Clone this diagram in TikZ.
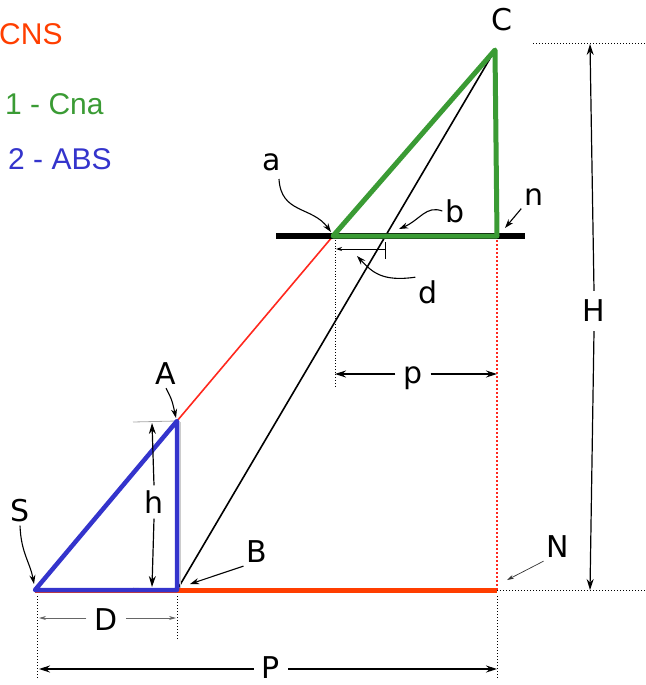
\documentclass[tikz,border=0pt]{standalone}
\usepackage{fontspec}
\setmainfont{Liberation Sans}
\newfontfamily\labfont{DejaVu Sans}
\usetikzlibrary{arrows.meta}
\definecolor{cnsred}{RGB}{255,62,0}
\definecolor{cnagreen}{RGB}{58,155,52}
\definecolor{absblue}{RGB}{52,52,204}
\definecolor{thinred}{RGB}{255,40,30}
\begin{document}
\begin{tikzpicture}[x=1pt,y=-1pt,
  lab/.style={font=\labfont\fontsize{30}{32}\selectfont, inner sep=3pt},
  leg/.style={font=\fontsize{30}{33}\selectfont, anchor=base west, inner sep=0pt},
  tip/.style={-{Stealth[length=9pt,width=6pt]}, line width=1.1pt},
  dimtip/.style={-{Stealth[length=11pt,width=7pt]}, line width=1.2pt},
  thintip/.style={-{Stealth[length=7pt,width=4pt]}, line width=0.7pt, black!80},
  graytip/.style={-{Stealth[length=7pt,width=4pt]}, line width=0.7pt, black!60},
  guide/.style={dotted, line width=1pt},
]
\useasboundingbox (0,0) rectangle (645,685);

% main points
\coordinate (S) at (35,590);
\coordinate (B) at (177,590);
\coordinate (A) at (177,421);
\coordinate (C) at (495,50);
\coordinate (a) at (333,236);
\coordinate (n) at (497,236);
\coordinate (N) at (497,590);
\coordinate (barL) at (276,236);
\coordinate (barR) at (525,236);

% legend
\node[leg, text=cnsred] (l0) at (-1,45) {CNS};
\node[leg, text=cnagreen] (l1) at (5,114) {1 - Cna};
\node[leg, text=absblue] (l2) at (8,169) {2 - ABS};

% guides (dotted)
\draw[guide] (533,44) -- (645,44);
\draw[guide] (N) -- (645,590);
\draw[guide] (37,596) -- (37,678);
\draw[guide] (177,596) -- (177,640);
\draw[guide] (497,596) -- (497,678);
\draw[guide, line width=0.8pt] (335,240) -- (335,386);

% red baseline and ray
\draw[cnsred, line width=5pt] (S) -- (N);
\draw[thinred, line width=1.6pt] (A) -- (a);
\draw[thinred, dotted, line width=2pt] (n) -- (N);

% black bar and sight line
\draw[line width=5.5pt] (barL) -- (barR);
\draw[line width=1.6pt] (B) -- (C);

% gray helpers near h
\draw[gray!70, line width=0.8pt] (133,422) -- (A);
\draw[gray!50, line width=0.6pt] (133,588) -- (B);
\draw[gray!40, line width=0.6pt] (180,422) -- (180,588);

% triangles
\draw[cnagreen, line width=5pt, line join=round] (a) -- (C) -- (n) -- cycle;
\draw[absblue, line width=4.5pt, line join=round] (S) -- (A) -- (B) -- cycle;

% H dimension
\coordinate (HT) at (590,44);
\coordinate (HB) at (590,590);
\node[lab, inner sep=9pt] (lH) at (594,311) {H};
\draw[dimtip] (lH.north) -- (HT);
\draw[dimtip] (lH.south) -- (HB);

% h dimension
\coordinate (hT) at (152,423);
\coordinate (hB) at (152,587);
\node[lab, inner sep=5pt] (lh) at (154,502) {h};
\draw[dimtip] (lh.north) -- (hT);
\draw[dimtip] (lh.south) -- (hB);

% p dimension
\coordinate (pL) at (335,374);
\coordinate (pR) at (497,374);
\node[lab, inner sep=8pt] (lp) at (413,378) {p};
\draw[dimtip] (lp.west |- pL) -- (pL);
\draw[dimtip] (lp.east |- pR) -- (pR);

% D dimension
\coordinate (DL) at (39,618);
\coordinate (DR) at (176,618);
\node[lab, inner sep=8pt] (lD) at (106,620) {D};
\draw[graytip] (lD.west |- DL) -- (DL);
\draw[graytip] (lD.east |- DR) -- (DR);

% P dimension
\coordinate (PL) at (39,669);
\coordinate (PR) at (497,669);
\node[lab, inner sep=8pt] (lP) at (271,668) {P};
\draw[dimtip] (lP.west |- PL) -- (PL);
\draw[dimtip] (lP.east |- PR) -- (PR);

% d small dimension
\coordinate (dL) at (336,249);
\coordinate (dR) at (385,249);
\draw[{Stealth[length=6pt,width=4pt]}-, line width=1pt] (dL) -- (dR);
\draw[line width=1pt] (385,242) -- (385,259);

% labels with pointers
\node[lab] (lC) at (502,20) {C};

\node[lab] (la) at (272,162) {a};
\coordinate (ta) at (331,232);
\draw[tip] (279,179) .. controls (281,214) and (312,206) .. (ta);

\node[lab] (lb) at (455,211) {b};
\coordinate (tb) at (399,229);
\draw[tip] (lb.west) .. controls (426,205) and (420,220) .. (tb);

\node[lab] (ld) at (428,292) {d};
\coordinate (td) at (357,256);
\draw[tip] (ld.north west) .. controls (382,282) and (372,272) .. (td);

\node[lab] (ln) at (534,197) {n};
\coordinate (tn) at (505,228);
\draw[tip] (ln.south west) -- (tn);

\node[lab] (lA) at (166,374) {A};
\coordinate (tA) at (176,418);
\draw[tip] (lA.south) .. controls (172,400) .. (tA);

\node[lab] (lS) at (20,511) {S};
\coordinate (tS) at (34,584);
\draw[tip] (lS.south) .. controls (21,553) and (30,562) .. (tS);

\node[lab] (lB) at (257,552) {B};
\coordinate (tB) at (190,584);
\draw[tip] (lB.south west) -- (tB);

\node[lab] (lN) at (558,547) {N};
\coordinate (tN) at (507,580);
\draw[thintip] (lN.south west) -- (tN);
\end{tikzpicture}
\end{document}
